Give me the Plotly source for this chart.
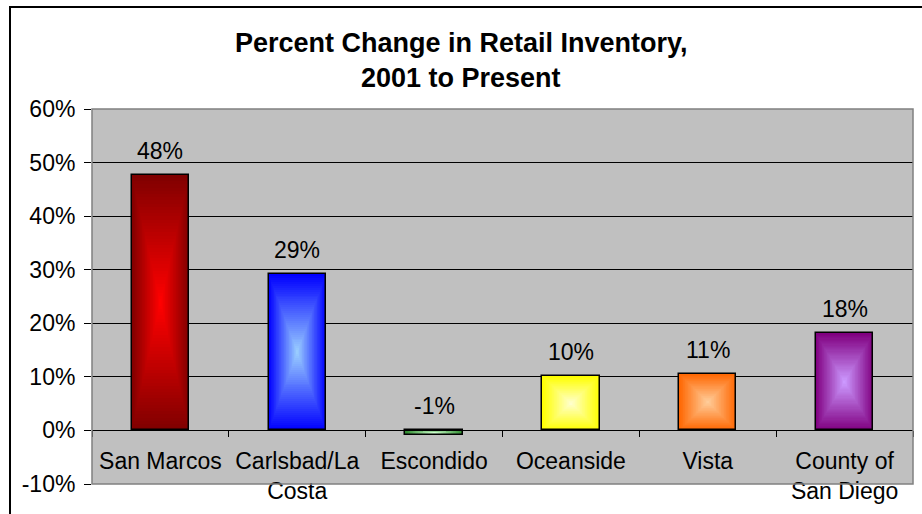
import plotly.graph_objects as go

# Percent change in retail inventory by area
categories = ["San Marcos", "Carlsbad/La<br>Costa", "Escondido", "Oceanside", "Vista", "County of<br>San Diego"]
values = [0.477, 0.292, -0.009, 0.101, 0.106, 0.181]

# Edge and centre colours of each bar's "from centre" gradient
edge_colors = ["#800000", "#0000FF", "#2E8B2E", "#FFFF00", "#FF6600", "#800080"]
center_colors = ["#FF0000", "#99CCFF", "#CCFFCC", "#FFFFCC", "#FFCC99", "#CC99FF"]

y_ticks = [-0.1, 0.0, 0.1, 0.2, 0.3, 0.4, 0.5, 0.6]
y_tick_labels = [f"{v:.0%}" for v in y_ticks]

FONT = "Liberation Sans, Arial, sans-serif"
BAR_WIDTH = 0.42
LAYERS = 40


def hex_to_rgb(h):
    h = h.lstrip("#")
    return tuple(int(h[i:i + 2], 16) for i in (0, 2, 4))


def mix(c1, c2, f):
    a, b = hex_to_rgb(c1), hex_to_rgb(c2)
    r = [round(a[i] + (b[i] - a[i]) * f) for i in range(3)]
    return f"rgb({r[0]},{r[1]},{r[2]})"


fig = go.Figure()

# Nested, shrinking rectangles build the rectangular centre gradient
for k in range(LAYERS):
    t = k / LAYERS
    f = k / (LAYERS - 1)
    fig.add_trace(go.Bar(
        x=categories,
        y=[v * (1 - t) for v in values],
        base=[v * t / 2 for v in values],
        width=BAR_WIDTH * (1 - t),
        marker=dict(color=[mix(e, c, f) for e, c in zip(edge_colors, center_colors)],
                    line=dict(width=0)),
        hoverinfo="skip",
        showlegend=False,
    ))

# Black outline of each bar
fig.add_trace(go.Bar(
    x=categories,
    y=values,
    width=BAR_WIDTH,
    marker=dict(color="rgba(0,0,0,0)", line=dict(color="black", width=1.5)),
    hovertemplate="%{x}: %{y:.0%}<extra></extra>",
    showlegend=False,
))

annotations = []
# Value labels sit above each bar (or above the zero line for negatives)
for cat, v in zip(categories, values):
    annotations.append(dict(
        x=cat, y=max(v, 0), xref="x", yref="y",
        text=f"{v:.0%}", showarrow=False,
        yanchor="bottom", yshift=9,
        font=dict(family=FONT, size=23, color="black"),
    ))

# Two-line chart title
for txt, ypix in [("Percent Change in Retail Inventory,", 43), ("2001 to Present", 78)]:
    annotations.append(dict(
        x=(461 - 92) / 821, y=(484 - ypix) / 375, xref="paper", yref="paper",
        text=f"<b>{txt}</b>", showarrow=False, xanchor="center", yanchor="middle",
        font=dict(family=FONT, size=27, color="black"),
    ))

shapes = [
    # plot-area border
    dict(type="rect", xref="paper", yref="paper", x0=0, x1=1, y0=0, y1=1,
         line=dict(color="#808080", width=1.5), layer="above"),
    # chart-area border
    dict(type="rect", xref="paper", yref="paper",
         x0=(10 - 92) / 821, x1=1.3, y0=-0.4, y1=(484 - 7) / 375,
         line=dict(color="black", width=2), layer="above"),
]

fig.update_layout(
    width=922, height=514,
    margin=dict(l=92, r=9, t=109, b=30),
    paper_bgcolor="white",
    plot_bgcolor="#C0C0C0",
    barmode="overlay",
    bargap=0,
    font=dict(family=FONT, size=23, color="black"),
    annotations=annotations,
    shapes=shapes,
    xaxis=dict(
        type="category",
        range=[-0.5, 5.5],
        anchor="free",
        position=(0 - y_ticks[0]) / (y_ticks[-1] - y_ticks[0]),
        showline=True, linecolor="black", linewidth=1,
        ticks="outside", tickson="boundaries", ticklen=6, tickcolor="black",
        showgrid=False,
        tickfont=dict(family=FONT, size=23, color="black"),
        ticklabelstandoff=10,
    ),
    yaxis=dict(
        range=[y_ticks[0], y_ticks[-1]],
        tickvals=y_ticks,
        ticktext=y_tick_labels,
        ticks="outside", ticklen=7, tickcolor="black",
        showgrid=True, gridcolor="black", gridwidth=1,
        zeroline=True, zerolinecolor="black", zerolinewidth=1,
        showline=False,
        tickfont=dict(family=FONT, size=23, color="black"),
        ticklabelstandoff=4,
    ),
)

fig.write_html("out.html")
